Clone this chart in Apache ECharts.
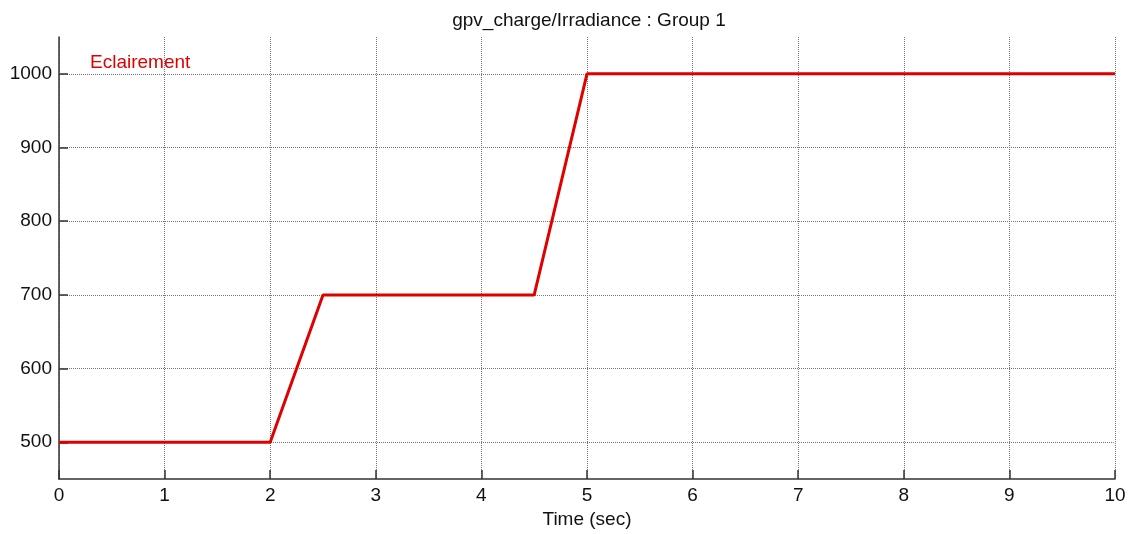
<!DOCTYPE html>
<html>
<head>
<meta charset="utf-8">
<script src="https://cdn.jsdelivr.net/npm/echarts@6/dist/echarts.min.js"></script>
<style>
  html, body { margin: 0; padding: 0; background: #fff; }
  #chart { width: 1141px; height: 534px; }
</style>
</head>
<body>
<div id="chart"></div>
<script>
// données
const timeSec = [0, 2, 2.5, 4.5, 5, 10];
const irradiance = [500, 500, 700, 700, 1000, 1000];
const yTicks = [500, 600, 700, 800, 900, 1000];

const chart = echarts.init(document.getElementById('chart'));

const font = 'Liberation Sans, Arial, sans-serif';

const option = {
    animation: false,
    backgroundColor: '#fff',
    title: {
        text: 'gpv_charge/Irradiance : Group 1',
        left: 584,
        top: 6,
        textAlign: 'center',
        textStyle: { fontFamily: font, fontSize: 19, fontWeight: 'normal', color: '#111' }
    },
    legend: {
        data: [{ name: 'Eclairement', icon: 'none' }],
        left: 80,
        top: 48,
        itemWidth: 0,
        itemGap: 0,
        textStyle: { fontFamily: font, fontSize: 19, color: '#e00000' }
    },
    grid: { left: 59, right: 26, top: 37, bottom: 52 },
    xAxis: {
        type: 'value',
        min: 0,
        max: 10,
        interval: 1,
        name: 'Time (sec)',
        nameLocation: 'middle',
        nameGap: 30,
        nameTextStyle: { fontFamily: font, fontSize: 19, color: '#111' },
        axisLine: { onZero: false, lineStyle: { color: '#333', width: 1.5 } },
        axisTick: { inside: true, length: 9, lineStyle: { color: '#333', width: 1.5 } },
        axisLabel: { fontFamily: font, fontSize: 19, color: '#111', margin: 7 },
        splitLine: { show: true, lineStyle: { color: '#777', type: [1, 1], width: 1 } }
    },
    yAxis: {
        type: 'value',
        min: 450,
        max: 1050,
        axisLine: { show: true, lineStyle: { color: '#333', width: 1.5 } },
        axisTick: { show: true, inside: true, length: 9, customValues: yTicks, lineStyle: { color: '#333', width: 1.5 } },
        axisLabel: { fontFamily: font, fontSize: 19, color: '#111', margin: 7, customValues: yTicks, formatter: v => String(v) },
        splitLine: { show: true, customValues: yTicks, lineStyle: { color: '#777', type: [1, 1], width: 1 } }
    },
    series: [{
        name: 'Eclairement',
        type: 'line',
        data: timeSec.map((t, i) => [t, irradiance[i]]),
        showSymbol: false,
        lineStyle: { color: '#e00000', width: 3 },
        itemStyle: { color: '#e00000' }
    }]
};

chart.setOption(option);
</script>
</body>
</html>
